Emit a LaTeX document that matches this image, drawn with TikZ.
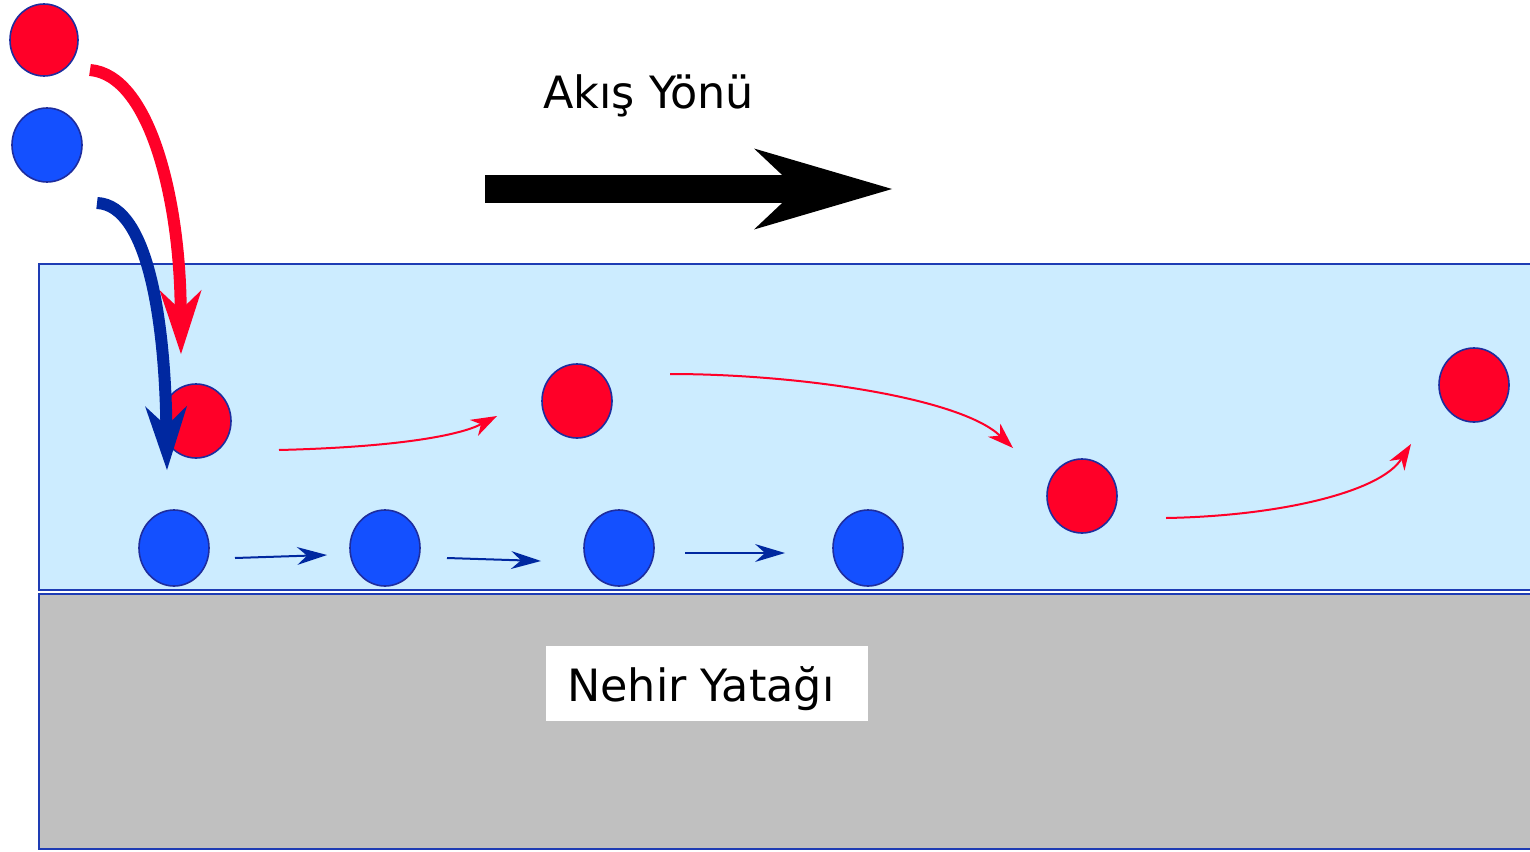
\documentclass[tikz,border=0pt]{standalone}
\usepackage{fontspec}
\setmainfont{DejaVu Sans}
\usetikzlibrary{arrows.meta,shapes.geometric}

\definecolor{water}{HTML}{CCECFF}
\definecolor{bed}{HTML}{C0C0C0}
\definecolor{edge}{HTML}{1E3CB4}
\definecolor{ballred}{HTML}{FF0028}
\definecolor{ballblue}{HTML}{1450FF}
\definecolor{ballrim}{HTML}{1E2D9E}
\definecolor{navy}{HTML}{0028A0}

\tikzset{
  ball/.style={ellipse, draw=ballrim, line width=1.6pt, minimum width=70pt, minimum height=74pt, inner sep=0pt},
  redball/.style={ball, fill=ballred},
  blueball/.style={ball, fill=ballblue},
  fallred/.style={draw=ballred, line width=12pt, -{Stealth[length=64pt, width=42pt, inset=20pt, line width=0pt]}},
  fallblue/.style={draw=navy, line width=12pt, -{Stealth[length=64pt, width=42pt, inset=20pt, line width=0pt]}},
  hopred/.style={draw=ballred, line width=2pt, -{Stealth[length=26pt, width=18pt, inset=8pt, line width=0pt]}},
  rollblue/.style={draw=navy, line width=2pt, -{Stealth[length=30pt, width=18pt, inset=10pt, line width=0pt]}},
  flowarrow/.style={draw=black, line width=28pt, -{Stealth[length=138pt, width=81pt, inset=43pt, line width=0pt]}},
  caption/.style={inner sep=0pt, anchor=base west, font=\fontsize{44.5}{52}\selectfont}
}

\begin{document}
\begin{tikzpicture}[x=1pt, y=-1pt]
\useasboundingbox (0,0) rectangle (1530,851);
\clip (0,0) rectangle (1530,851);

% water layer and river bed
\draw[fill=water, draw=edge, line width=2pt] (39,264) rectangle (1545,590);
\draw[fill=bed, draw=edge, line width=2pt] (39,594) rectangle (1545,849);

% label of the bed
\node[fill=white, minimum width=322pt, minimum height=75pt, inner sep=0pt] (bedbox) at (707,683.5) {};
\node[caption] (bedtext) at (567,701) {Nehir Yatağı};

% flow direction
\node[caption] (flowtext) at (543,108) {Akış Yönü};
\coordinate (flowA) at (485,189);
\coordinate (flowB) at (892,189);
\draw[flowarrow] (flowA) -- (flowB);

% particles before entering the water
\node[redball, minimum width=68pt, minimum height=72pt] (r0) at (44,40) {};
\node[blueball] (b0) at (47,145) {};

% suspended particles
\node[redball] (r1) at (196,421) {};
\node[redball] (r2) at (577,401) {};
\node[redball] (r3) at (1082,496) {};
\node[redball] (r4) at (1474,385) {};

% bed-load particles
\node[blueball, minimum height=76pt] (b1) at (174,548) {};
\node[blueball, minimum height=76pt] (b2) at (385,548) {};
\node[blueball, minimum height=76pt] (b3) at (619,548) {};
\node[blueball, minimum height=76pt] (b4) at (868,548) {};

% falling paths
\coordinate (fr0) at (90,70);
\coordinate (fr1) at (181,354);
\coordinate (fb0) at (97,203);
\coordinate (fb1) at (167,470);
\draw[fallred] (fr0) .. controls (150,75) and (180,200) .. (fr1);
\draw[fallblue] (fb0) .. controls (150,205) and (165,330) .. (fb1);

% saltation of the red particles
\coordinate (h1a) at (279,450);
\coordinate (h1b) at (497,416);
\coordinate (h2a) at (670,374);
\coordinate (h2b) at (1013,448);
\coordinate (h3a) at (1166,518);
\coordinate (h3b) at (1411,444);
\draw[hopred] (h1a) .. controls (400,447) and (460,435) .. (h1b);
\draw[hopred] (h2a) .. controls (800,374) and (960,398) .. (h2b);
\draw[hopred] (h3a) .. controls (1280,516) and (1380,492) .. (h3b);

% rolling of the blue particles
\coordinate (w1a) at (235,558);
\coordinate (w1b) at (327,555);
\coordinate (w2a) at (447,558);
\coordinate (w2b) at (541,561);
\coordinate (w3a) at (685,553);
\coordinate (w3b) at (785,553);
\draw[rollblue] (w1a) -- (w1b);
\draw[rollblue] (w2a) -- (w2b);
\draw[rollblue] (w3a) -- (w3b);
\end{tikzpicture}
\end{document}
